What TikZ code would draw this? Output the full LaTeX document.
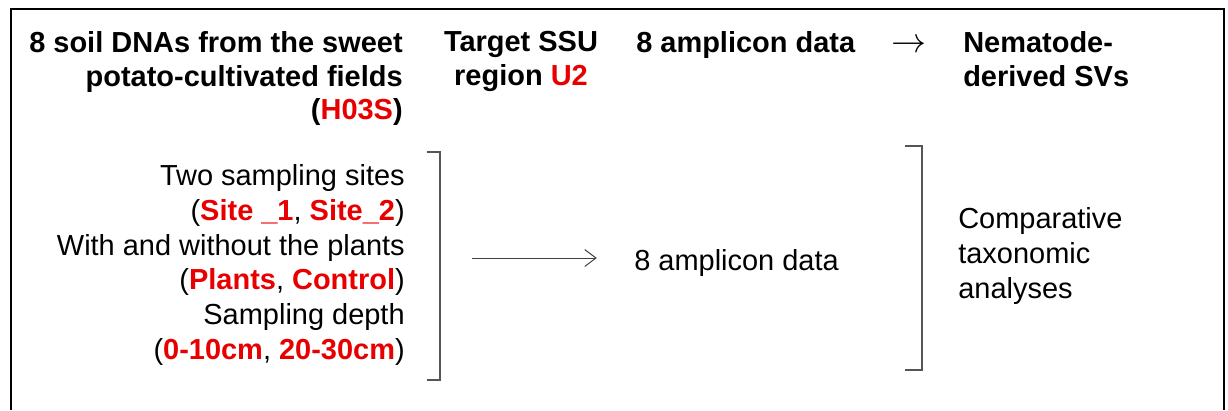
\documentclass[tikz,border=0pt]{standalone}
\usepackage{fontspec}
\setmainfont{Liberation Sans}
\usetikzlibrary{arrows.meta, positioning, calc}
\definecolor{hired}{RGB}{232, 0, 0}
\definecolor{bracegray}{RGB}{85, 85, 85}
\newcommand{\hl}[1]{\textcolor{hired}{\textbf{#1}}}

\begin{document}
\begin{tikzpicture}[
                x=0.025cm, y=-0.025cm,
                txt/.style={
                    inner sep=0pt,
                    font=\fontsize{20.6}{24.8}\selectfont
                },
                hdr/.style={
                    txt,
                    font=\fontsize{20.6}{24}\selectfont\bfseries
                },
                brack/.style={
                    draw=bracegray,
                    line width=0.9pt
                },
                flow/.style={
                    draw=black!75,
                    line width=0.7pt,
                    -{Straight Barb[length=8pt, width=12pt, line width=0.7pt]}
                }
            ]
                \useasboundingbox (0,0) rectangle (1228,410);
                \draw[line width=2.1pt] (11,410) -- (11,9) -- (1224,9) -- (1224,410);

                % header row
                \node[hdr, align=right, anchor=north east] (soil) at (403,31) {8 soil DNAs from the sweet\\potato-cultivated fields\\(\hl{H03S})};
                \node[hdr, align=center, anchor=north] (ssu) at (521,31) {Target SSU\\region \hl{U2}};
                \node[hdr, anchor=north west] (amphdr) at (636,31) {8 amplicon data};
                \node[txt, anchor=base, font=\fontsize{29}{30}\selectfont] (hdrarrow) at (909,52) {$\rightarrow$};
                \node[hdr, align=left, anchor=north west] (svs) at (963,31) {Nematode-\\derived SVs};

                % body
                \node[txt, align=right, anchor=north east] (conds) at (405,164) {Two sampling sites\\(\hl{Site \_1}, \hl{Site\_2})\\With and without the plants\\(\hl{Plants}, \hl{Control})\\Sampling depth\\(\hl{0-10cm}, \hl{20-30cm})};
                \node[txt, anchor=north west] (ampdata) at (634,249) {8 amplicon data};
                \node[txt, align=left, anchor=north west] (analyses) at (958,207) {Comparative\\taxonomic\\analyses};

                \coordinate (lbtop) at (440,152);
                \coordinate (lbbot) at (440,380);
                \coordinate (rbtop) at (922,146);
                \coordinate (rbbot) at (922,370);
                \draw[brack] ($(lbtop)+(-13,0)$) -- (lbtop) -- (lbbot) -- ($(lbbot)+(-13,0)$);
                \draw[brack] ($(rbtop)+(-17,0)$) -- (rbtop) -- (rbbot) -- ($(rbbot)+(-17,0)$);

                \coordinate (arrowtail) at (472,258);
                \draw[flow, shorten >=0.93cm] (arrowtail) -- (arrowtail -| ampdata.west);
            \end{tikzpicture}
\end{document}
